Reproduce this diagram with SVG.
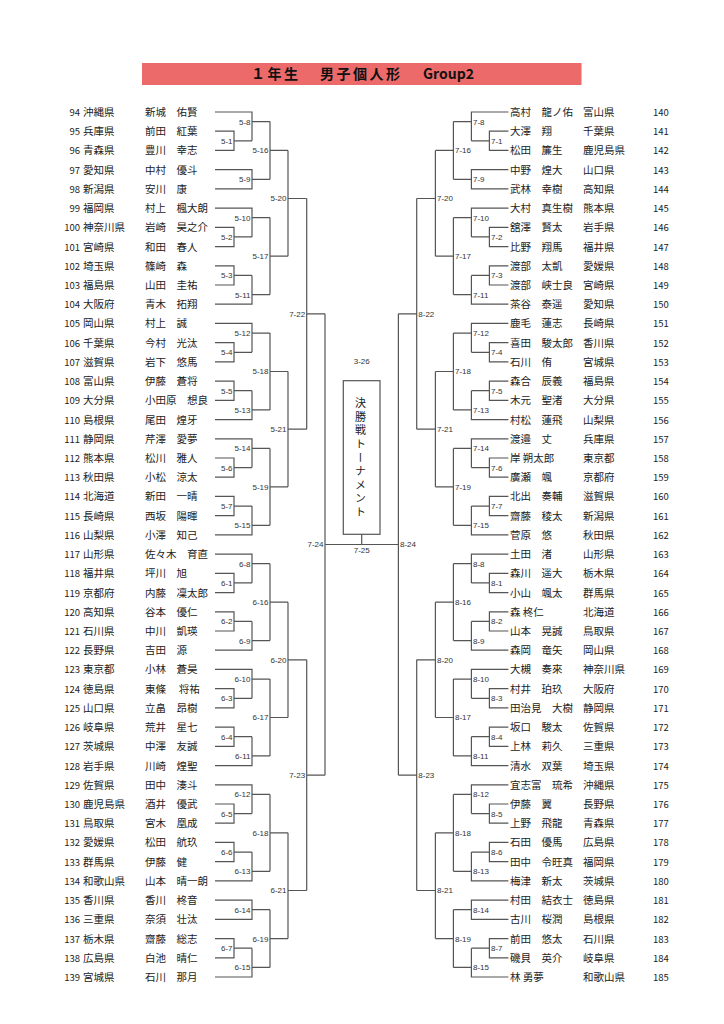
<svg xmlns="http://www.w3.org/2000/svg" xmlns:xlink="http://www.w3.org/1999/xlink" width="724" height="1024" viewBox="0 0 724 1024">
<style>
.t{font-family:"Noto Sans CJK JP","Liberation Sans",sans-serif;font-size:10.5px;fill:#222}
.n{font-size:9.5px;text-anchor:end}
.nr{font-size:9.5px}
.l{font-family:"Liberation Sans",sans-serif;font-size:8px;fill:#333;text-anchor:end}
.lr{font-family:"Liberation Sans",sans-serif;font-size:8px;fill:#333}
.lc{font-family:"Liberation Sans",sans-serif;font-size:8px;fill:#333;text-anchor:middle}
.c{fill:none;stroke:#555;stroke-width:1.2}
</style>
<defs>
<g id="half">
<path d="M215 112H252V140.8M215 131.2H234V150.4H215M234 140.8H252M252 121.6H270M215 169.7H252V188.9H215M252 179.3H270M270 121.6V179.3M270 150.4H288M215 208.1H252V236.9M252 217.7H270M215 227.3H234V246.6H215M234 236.9H252M215 265.8H234V285H215M234 275.4H252M215 304.2H252V275.4M252 294.6H270M270 217.7V294.6M270 256.2H288M288 150.4V256.2M288 198.5H306.7"/>
<path d="M215 323.4H252V352.3M252 333.1H270M215 342.7H234V361.9H215M234 352.3H252M215 381.1H234V400.3H215M234 390.7H252M215 419.6H252V390.7M252 409.9H270M270 333.1V409.9M270 371.5H288M215 438.8H252V467.6M252 448.4H270M215 458H234V477.2H215M234 467.6H252M215 496.4H234V515.7H215M234 506.1H252M215 534.9H252V506.1M252 525.3H270M270 448.4V525.3M270 486.8H288M288 371.5V486.8M288 429.2H306.7M306.7 198.5V429.2M306.7 313.8H325"/>
<path d="M215 554.1H252V582.9M252 563.7H270M215 573.3H234V592.6H215M234 582.9H252M215 611.8H234V631H215M234 621.4H252M215 650.2H252V621.4M252 640.6H270M270 563.7V640.6M270 602.2H288M215 669.4H252V698.3M252 679.1H270M215 688.7H234V707.9H215M234 698.3H252M215 727.1H234V746.3H215M234 736.7H252M215 765.6H252V736.7M252 755.9H270M270 679.1V755.9M270 717.5H288M288 602.2V717.5M288 659.8H306.7"/>
<path d="M215 784.8H252V813.6M252 794.4H270M215 804H234V823.2H215M234 813.6H252M215 842.4H234V861.7H215M234 852.1H252M215 880.9H252V852.1M252 871.3H270M270 794.4V871.3M270 832.8H288M215 900.1H252V919.3H215M252 909.7H270M215 938.6H234V957.8H215M234 948.2H252M215 977H252V948.2M252 967.4H270M270 909.7V967.4M270 938.6H288M288 832.8V938.6M288 890.5H306.7M306.7 659.8V890.5M306.7 775.2H325M325 313.8V775.2"/>
</g>
</defs>

<g id="title">
<rect x="142" y="63" width="439.5" height="22" fill="#ec6a6a"/>
<text style="font-family:'Noto Sans CJK JP','Liberation Sans',sans-serif;font-weight:bold;font-size:14px;fill:#111" y="79"><tspan x="251" letter-spacing="2.5">１年生　</tspan><tspan x="320" letter-spacing="2.5">男子個人形　</tspan><tspan x="423">Group2</tspan></text>
</g>

<g id="connectors" class="c">
<use xlink:href="#half" href="#half"/>
<use xlink:href="#half" href="#half" transform="matrix(-1 0 0 1 723.4 0)"/>
<path d="M325 544.5H398.4M361.7 544.5V534.3"/>
</g>

<g id="final">
<rect x="343.3" y="380.7" width="36.7" height="153.6" fill="none" stroke="#555" stroke-width="1.2"/>
<text x="360.5" y="397.5" style="font-family:'Noto Sans CJK JP',sans-serif;font-size:11px;fill:#222;writing-mode:vertical-rl;letter-spacing:2.6px">決勝戦トーナメント</text>
<text class="lc" x="361.7" y="363.9">3-26</text>
<text class="lc" x="361.7" y="552.9">7-25</text>
</g>

<g id="labels-left">
<text class="l" x="232.5" y="143.7">5-1</text>
<text class="l" x="232.5" y="239.8">5-2</text>
<text class="l" x="232.5" y="278.3">5-3</text>
<text class="l" x="232.5" y="355.2">5-4</text>
<text class="l" x="232.5" y="393.6">5-5</text>
<text class="l" x="232.5" y="470.5">5-6</text>
<text class="l" x="232.5" y="509">5-7</text>
<text class="l" x="232.5" y="585.8">6-1</text>
<text class="l" x="232.5" y="624.3">6-2</text>
<text class="l" x="232.5" y="701.2">6-3</text>
<text class="l" x="232.5" y="739.6">6-4</text>
<text class="l" x="232.5" y="816.5">6-5</text>
<text class="l" x="232.5" y="855">6-6</text>
<text class="l" x="232.5" y="951.1">6-7</text>
<text class="l" x="250.5" y="124.5">5-8</text>
<text class="l" x="250.5" y="182.2">5-9</text>
<text class="l" x="250.5" y="220.6">5-10</text>
<text class="l" x="250.5" y="297.5">5-11</text>
<text class="l" x="250.5" y="336">5-12</text>
<text class="l" x="250.5" y="412.8">5-13</text>
<text class="l" x="250.5" y="451.3">5-14</text>
<text class="l" x="250.5" y="528.2">5-15</text>
<text class="l" x="250.5" y="566.6">6-8</text>
<text class="l" x="250.5" y="643.5">6-9</text>
<text class="l" x="250.5" y="682">6-10</text>
<text class="l" x="250.5" y="758.8">6-11</text>
<text class="l" x="250.5" y="797.3">6-12</text>
<text class="l" x="250.5" y="874.2">6-13</text>
<text class="l" x="250.5" y="912.6">6-14</text>
<text class="l" x="250.5" y="970.3">6-15</text>
<text class="l" x="268.5" y="153.3">5-16</text>
<text class="l" x="268.5" y="259.1">5-17</text>
<text class="l" x="268.5" y="374.4">5-18</text>
<text class="l" x="268.5" y="489.7">5-19</text>
<text class="l" x="268.5" y="605.1">6-16</text>
<text class="l" x="268.5" y="720.4">6-17</text>
<text class="l" x="268.5" y="835.7">6-18</text>
<text class="l" x="268.5" y="941.5">6-19</text>
<text class="l" x="286.5" y="201.4">5-20</text>
<text class="l" x="286.5" y="432.1">5-21</text>
<text class="l" x="286.5" y="662.7">6-20</text>
<text class="l" x="286.5" y="893.4">6-21</text>
<text class="l" x="305.2" y="316.7">7-22</text>
<text class="l" x="305.2" y="778.1">7-23</text>
<text class="l" x="323.5" y="547.4">7-24</text>
</g>

<g id="labels-right">
<text class="lr" x="491" y="143.7">7-1</text>
<text class="lr" x="491" y="239.8">7-2</text>
<text class="lr" x="491" y="278.3">7-3</text>
<text class="lr" x="491" y="355.2">7-4</text>
<text class="lr" x="491" y="393.6">7-5</text>
<text class="lr" x="491" y="470.5">7-6</text>
<text class="lr" x="491" y="509">7-7</text>
<text class="lr" x="491" y="585.8">8-1</text>
<text class="lr" x="491" y="624.3">8-2</text>
<text class="lr" x="491" y="701.2">8-3</text>
<text class="lr" x="491" y="739.6">8-4</text>
<text class="lr" x="491" y="816.5">8-5</text>
<text class="lr" x="491" y="855">8-6</text>
<text class="lr" x="491" y="951.1">8-7</text>
<text class="lr" x="473" y="124.5">7-8</text>
<text class="lr" x="473" y="182.2">7-9</text>
<text class="lr" x="473" y="220.6">7-10</text>
<text class="lr" x="473" y="297.5">7-11</text>
<text class="lr" x="473" y="336">7-12</text>
<text class="lr" x="473" y="412.8">7-13</text>
<text class="lr" x="473" y="451.3">7-14</text>
<text class="lr" x="473" y="528.2">7-15</text>
<text class="lr" x="473" y="566.6">8-8</text>
<text class="lr" x="473" y="643.5">8-9</text>
<text class="lr" x="473" y="682">8-10</text>
<text class="lr" x="473" y="758.8">8-11</text>
<text class="lr" x="473" y="797.3">8-12</text>
<text class="lr" x="473" y="874.2">8-13</text>
<text class="lr" x="473" y="912.6">8-14</text>
<text class="lr" x="473" y="970.3">8-15</text>
<text class="lr" x="455" y="153.3">7-16</text>
<text class="lr" x="455" y="259.1">7-17</text>
<text class="lr" x="455" y="374.4">7-18</text>
<text class="lr" x="455" y="489.7">7-19</text>
<text class="lr" x="455" y="605.1">8-16</text>
<text class="lr" x="455" y="720.4">8-17</text>
<text class="lr" x="455" y="835.7">8-18</text>
<text class="lr" x="455" y="941.5">8-19</text>
<text class="lr" x="437" y="201.4">7-20</text>
<text class="lr" x="437" y="432.1">7-21</text>
<text class="lr" x="437" y="662.7">8-20</text>
<text class="lr" x="437" y="893.4">8-21</text>
<text class="lr" x="418.3" y="316.7">8-22</text>
<text class="lr" x="418.3" y="778.1">8-23</text>
<text class="lr" x="400" y="547.4">8-24</text>
</g>

<g id="players-left">
<g id="p94" transform="translate(0,116)"><text class="t n" x="80">94</text><text class="t" x="83">沖縄県</text><text class="t" x="145">新城　佑賢</text></g>
<g id="p95" transform="translate(0,135.2)"><text class="t n" x="80">95</text><text class="t" x="83">兵庫県</text><text class="t" x="145">前田　紅葉</text></g>
<g id="p96" transform="translate(0,154.4)"><text class="t n" x="80">96</text><text class="t" x="83">青森県</text><text class="t" x="145">豊川　幸志</text></g>
<g id="p97" transform="translate(0,173.7)"><text class="t n" x="80">97</text><text class="t" x="83">愛知県</text><text class="t" x="145">中村　優斗</text></g>
<g id="p98" transform="translate(0,192.9)"><text class="t n" x="80">98</text><text class="t" x="83">新潟県</text><text class="t" x="145">安川　康</text></g>
<g id="p99" transform="translate(0,212.1)"><text class="t n" x="80">99</text><text class="t" x="83">福岡県</text><text class="t" x="145">村上　楓大朗</text></g>
<g id="p100" transform="translate(0,231.3)"><text class="t n" x="80">100</text><text class="t" x="83">神奈川県</text><text class="t" x="145">岩崎　昊之介</text></g>
<g id="p101" transform="translate(0,250.6)"><text class="t n" x="80">101</text><text class="t" x="83">宮崎県</text><text class="t" x="145">和田　春人</text></g>
<g id="p102" transform="translate(0,269.8)"><text class="t n" x="80">102</text><text class="t" x="83">埼玉県</text><text class="t" x="145">篠崎　森</text></g>
<g id="p103" transform="translate(0,289)"><text class="t n" x="80">103</text><text class="t" x="83">福島県</text><text class="t" x="145">山田　圭祐</text></g>
<g id="p104" transform="translate(0,308.2)"><text class="t n" x="80">104</text><text class="t" x="83">大阪府</text><text class="t" x="145">青木　拓翔</text></g>
<g id="p105" transform="translate(0,327.4)"><text class="t n" x="80">105</text><text class="t" x="83">岡山県</text><text class="t" x="145">村上　誠</text></g>
<g id="p106" transform="translate(0,346.7)"><text class="t n" x="80">106</text><text class="t" x="83">千葉県</text><text class="t" x="145">今村　光汰</text></g>
<g id="p107" transform="translate(0,365.9)"><text class="t n" x="80">107</text><text class="t" x="83">滋賀県</text><text class="t" x="145">岩下　悠馬</text></g>
<g id="p108" transform="translate(0,385.1)"><text class="t n" x="80">108</text><text class="t" x="83">富山県</text><text class="t" x="145">伊藤　蒼将</text></g>
<g id="p109" transform="translate(0,404.3)"><text class="t n" x="80">109</text><text class="t" x="83">大分県</text><text class="t" x="145">小田原　想良</text></g>
<g id="p110" transform="translate(0,423.6)"><text class="t n" x="80">110</text><text class="t" x="83">島根県</text><text class="t" x="145">尾田　煌牙</text></g>
<g id="p111" transform="translate(0,442.8)"><text class="t n" x="80">111</text><text class="t" x="83">静岡県</text><text class="t" x="145">芹澤　愛夢</text></g>
<g id="p112" transform="translate(0,462)"><text class="t n" x="80">112</text><text class="t" x="83">熊本県</text><text class="t" x="145">松川　雅人</text></g>
<g id="p113" transform="translate(0,481.2)"><text class="t n" x="80">113</text><text class="t" x="83">秋田県</text><text class="t" x="145">小松　涼太</text></g>
<g id="p114" transform="translate(0,500.4)"><text class="t n" x="80">114</text><text class="t" x="83">北海道</text><text class="t" x="145">新田　一晴</text></g>
<g id="p115" transform="translate(0,519.7)"><text class="t n" x="80">115</text><text class="t" x="83">長崎県</text><text class="t" x="145">西坂　陽暉</text></g>
<g id="p116" transform="translate(0,538.9)"><text class="t n" x="80">116</text><text class="t" x="83">山梨県</text><text class="t" x="145">小澤　知己</text></g>
<g id="p117" transform="translate(0,558.1)"><text class="t n" x="80">117</text><text class="t" x="83">山形県</text><text class="t" x="145">佐々木　育直</text></g>
<g id="p118" transform="translate(0,577.3)"><text class="t n" x="80">118</text><text class="t" x="83">福井県</text><text class="t" x="145">坪川　旭</text></g>
<g id="p119" transform="translate(0,596.6)"><text class="t n" x="80">119</text><text class="t" x="83">京都府</text><text class="t" x="145">内藤　凜太郎</text></g>
<g id="p120" transform="translate(0,615.8)"><text class="t n" x="80">120</text><text class="t" x="83">高知県</text><text class="t" x="145">谷本　優仁</text></g>
<g id="p121" transform="translate(0,635)"><text class="t n" x="80">121</text><text class="t" x="83">石川県</text><text class="t" x="145">中川　凱瑛</text></g>
<g id="p122" transform="translate(0,654.2)"><text class="t n" x="80">122</text><text class="t" x="83">長野県</text><text class="t" x="145">吉田　源</text></g>
<g id="p123" transform="translate(0,673.4)"><text class="t n" x="80">123</text><text class="t" x="83">東京都</text><text class="t" x="145">小林　蒼昊</text></g>
<g id="p124" transform="translate(0,692.7)"><text class="t n" x="80">124</text><text class="t" x="83">徳島県</text><text class="t" x="145">東條　 将祐</text></g>
<g id="p125" transform="translate(0,711.9)"><text class="t n" x="80">125</text><text class="t" x="83">山口県</text><text class="t" x="145">立畠　昂樹</text></g>
<g id="p126" transform="translate(0,731.1)"><text class="t n" x="80">126</text><text class="t" x="83">岐阜県</text><text class="t" x="145">荒井　星七</text></g>
<g id="p127" transform="translate(0,750.3)"><text class="t n" x="80">127</text><text class="t" x="83">茨城県</text><text class="t" x="145">中澤　友誠</text></g>
<g id="p128" transform="translate(0,769.6)"><text class="t n" x="80">128</text><text class="t" x="83">岩手県</text><text class="t" x="145">川崎　煌聖</text></g>
<g id="p129" transform="translate(0,788.8)"><text class="t n" x="80">129</text><text class="t" x="83">佐賀県</text><text class="t" x="145">田中　湊斗</text></g>
<g id="p130" transform="translate(0,808)"><text class="t n" x="80">130</text><text class="t" x="83">鹿児島県</text><text class="t" x="145">酒井　優武</text></g>
<g id="p131" transform="translate(0,827.2)"><text class="t n" x="80">131</text><text class="t" x="83">鳥取県</text><text class="t" x="145">宮木　凰成</text></g>
<g id="p132" transform="translate(0,846.4)"><text class="t n" x="80">132</text><text class="t" x="83">愛媛県</text><text class="t" x="145">松田　航玖</text></g>
<g id="p133" transform="translate(0,865.7)"><text class="t n" x="80">133</text><text class="t" x="83">群馬県</text><text class="t" x="145">伊藤　健</text></g>
<g id="p134" transform="translate(0,884.9)"><text class="t n" x="80">134</text><text class="t" x="83">和歌山県</text><text class="t" x="145">山本　晴一朗</text></g>
<g id="p135" transform="translate(0,904.1)"><text class="t n" x="80">135</text><text class="t" x="83">香川県</text><text class="t" x="145">香川　柊音</text></g>
<g id="p136" transform="translate(0,923.3)"><text class="t n" x="80">136</text><text class="t" x="83">三重県</text><text class="t" x="145">奈須　壮汰</text></g>
<g id="p137" transform="translate(0,942.6)"><text class="t n" x="80">137</text><text class="t" x="83">栃木県</text><text class="t" x="145">齋藤　総志</text></g>
<g id="p138" transform="translate(0,961.8)"><text class="t n" x="80">138</text><text class="t" x="83">広島県</text><text class="t" x="145">白池　晴仁</text></g>
<g id="p139" transform="translate(0,981)"><text class="t n" x="80">139</text><text class="t" x="83">宮城県</text><text class="t" x="145">石川　那月</text></g>
</g>

<g id="players-right">
<g id="p140" transform="translate(0,116)"><text class="t" x="510">高村　龍ノ佑</text><text class="t" x="583">富山県</text><text class="t nr" x="653">140</text></g>
<g id="p141" transform="translate(0,135.2)"><text class="t" x="510">大澤　翔</text><text class="t" x="583">千葉県</text><text class="t nr" x="653">141</text></g>
<g id="p142" transform="translate(0,154.4)"><text class="t" x="510">松田　簾生</text><text class="t" x="583">鹿児島県</text><text class="t nr" x="653">142</text></g>
<g id="p143" transform="translate(0,173.7)"><text class="t" x="510">中野　煌大</text><text class="t" x="583">山口県</text><text class="t nr" x="653">143</text></g>
<g id="p144" transform="translate(0,192.9)"><text class="t" x="510">武林　幸樹</text><text class="t" x="583">高知県</text><text class="t nr" x="653">144</text></g>
<g id="p145" transform="translate(0,212.1)"><text class="t" x="510">大村　真生樹</text><text class="t" x="583">熊本県</text><text class="t nr" x="653">145</text></g>
<g id="p146" transform="translate(0,231.3)"><text class="t" x="510">舘澤　賢太</text><text class="t" x="583">岩手県</text><text class="t nr" x="653">146</text></g>
<g id="p147" transform="translate(0,250.6)"><text class="t" x="510">比野　翔馬</text><text class="t" x="583">福井県</text><text class="t nr" x="653">147</text></g>
<g id="p148" transform="translate(0,269.8)"><text class="t" x="510">渡部　太凱</text><text class="t" x="583">愛媛県</text><text class="t nr" x="653">148</text></g>
<g id="p149" transform="translate(0,289)"><text class="t" x="510">渡部　峡士良</text><text class="t" x="583">宮崎県</text><text class="t nr" x="653">149</text></g>
<g id="p150" transform="translate(0,308.2)"><text class="t" x="510">茶谷　泰遥</text><text class="t" x="583">愛知県</text><text class="t nr" x="653">150</text></g>
<g id="p151" transform="translate(0,327.4)"><text class="t" x="510">鹿毛　蓮志</text><text class="t" x="583">長崎県</text><text class="t nr" x="653">151</text></g>
<g id="p152" transform="translate(0,346.7)"><text class="t" x="510">喜田　駿太郎</text><text class="t" x="583">香川県</text><text class="t nr" x="653">152</text></g>
<g id="p153" transform="translate(0,365.9)"><text class="t" x="510">石川　侑</text><text class="t" x="583">宮城県</text><text class="t nr" x="653">153</text></g>
<g id="p154" transform="translate(0,385.1)"><text class="t" x="510">森合　辰義</text><text class="t" x="583">福島県</text><text class="t nr" x="653">154</text></g>
<g id="p155" transform="translate(0,404.3)"><text class="t" x="510">木元　聖渚</text><text class="t" x="583">大分県</text><text class="t nr" x="653">155</text></g>
<g id="p156" transform="translate(0,423.6)"><text class="t" x="510">村松　蓮飛</text><text class="t" x="583">山梨県</text><text class="t nr" x="653">156</text></g>
<g id="p157" transform="translate(0,442.8)"><text class="t" x="510">渡邉　丈</text><text class="t" x="583">兵庫県</text><text class="t nr" x="653">157</text></g>
<g id="p158" transform="translate(0,462)"><text class="t" x="510">岸 朔太郎</text><text class="t" x="583">東京都</text><text class="t nr" x="653">158</text></g>
<g id="p159" transform="translate(0,481.2)"><text class="t" x="510">廣瀬　颯</text><text class="t" x="583">京都府</text><text class="t nr" x="653">159</text></g>
<g id="p160" transform="translate(0,500.4)"><text class="t" x="510">北出　奏輔</text><text class="t" x="583">滋賀県</text><text class="t nr" x="653">160</text></g>
<g id="p161" transform="translate(0,519.7)"><text class="t" x="510">齋藤　稜太</text><text class="t" x="583">新潟県</text><text class="t nr" x="653">161</text></g>
<g id="p162" transform="translate(0,538.9)"><text class="t" x="510">菅原　悠</text><text class="t" x="583">秋田県</text><text class="t nr" x="653">162</text></g>
<g id="p163" transform="translate(0,558.1)"><text class="t" x="510">土田　渚</text><text class="t" x="583">山形県</text><text class="t nr" x="653">163</text></g>
<g id="p164" transform="translate(0,577.3)"><text class="t" x="510">森川　遥大</text><text class="t" x="583">栃木県</text><text class="t nr" x="653">164</text></g>
<g id="p165" transform="translate(0,596.6)"><text class="t" x="510">小山　颯太</text><text class="t" x="583">群馬県</text><text class="t nr" x="653">165</text></g>
<g id="p166" transform="translate(0,615.8)"><text class="t" x="510">森 柊仁</text><text class="t" x="583">北海道</text><text class="t nr" x="653">166</text></g>
<g id="p167" transform="translate(0,635)"><text class="t" x="510">山本　晃誠</text><text class="t" x="583">鳥取県</text><text class="t nr" x="653">167</text></g>
<g id="p168" transform="translate(0,654.2)"><text class="t" x="510">森岡　竜矢</text><text class="t" x="583">岡山県</text><text class="t nr" x="653">168</text></g>
<g id="p169" transform="translate(0,673.4)"><text class="t" x="510">大槻　奏來</text><text class="t" x="583">神奈川県</text><text class="t nr" x="653">169</text></g>
<g id="p170" transform="translate(0,692.7)"><text class="t" x="510">村井　珀玖</text><text class="t" x="583">大阪府</text><text class="t nr" x="653">170</text></g>
<g id="p171" transform="translate(0,711.9)"><text class="t" x="510">田治見　大樹</text><text class="t" x="583">静岡県</text><text class="t nr" x="653">171</text></g>
<g id="p172" transform="translate(0,731.1)"><text class="t" x="510">坂口　駿太</text><text class="t" x="583">佐賀県</text><text class="t nr" x="653">172</text></g>
<g id="p173" transform="translate(0,750.3)"><text class="t" x="510">上林　莉久</text><text class="t" x="583">三重県</text><text class="t nr" x="653">173</text></g>
<g id="p174" transform="translate(0,769.6)"><text class="t" x="510">清水　双葉</text><text class="t" x="583">埼玉県</text><text class="t nr" x="653">174</text></g>
<g id="p175" transform="translate(0,788.8)"><text class="t" x="510">宜志富　琉希</text><text class="t" x="583">沖縄県</text><text class="t nr" x="653">175</text></g>
<g id="p176" transform="translate(0,808)"><text class="t" x="510">伊藤　翼</text><text class="t" x="583">長野県</text><text class="t nr" x="653">176</text></g>
<g id="p177" transform="translate(0,827.2)"><text class="t" x="510">上野　飛龍</text><text class="t" x="583">青森県</text><text class="t nr" x="653">177</text></g>
<g id="p178" transform="translate(0,846.4)"><text class="t" x="510">石田　優馬</text><text class="t" x="583">広島県</text><text class="t nr" x="653">178</text></g>
<g id="p179" transform="translate(0,865.7)"><text class="t" x="510">田中　令旺真</text><text class="t" x="583">福岡県</text><text class="t nr" x="653">179</text></g>
<g id="p180" transform="translate(0,884.9)"><text class="t" x="510">梅津　新太</text><text class="t" x="583">茨城県</text><text class="t nr" x="653">180</text></g>
<g id="p181" transform="translate(0,904.1)"><text class="t" x="510">村田　結衣士</text><text class="t" x="583">徳島県</text><text class="t nr" x="653">181</text></g>
<g id="p182" transform="translate(0,923.3)"><text class="t" x="510">古川　桜潤</text><text class="t" x="583">島根県</text><text class="t nr" x="653">182</text></g>
<g id="p183" transform="translate(0,942.6)"><text class="t" x="510">前田　悠太</text><text class="t" x="583">石川県</text><text class="t nr" x="653">183</text></g>
<g id="p184" transform="translate(0,961.8)"><text class="t" x="510">磯貝　英介</text><text class="t" x="583">岐阜県</text><text class="t nr" x="653">184</text></g>
<g id="p185" transform="translate(0,981)"><text class="t" x="510">林 勇夢</text><text class="t" x="583">和歌山県</text><text class="t nr" x="653">185</text></g>
</g>
</svg>
